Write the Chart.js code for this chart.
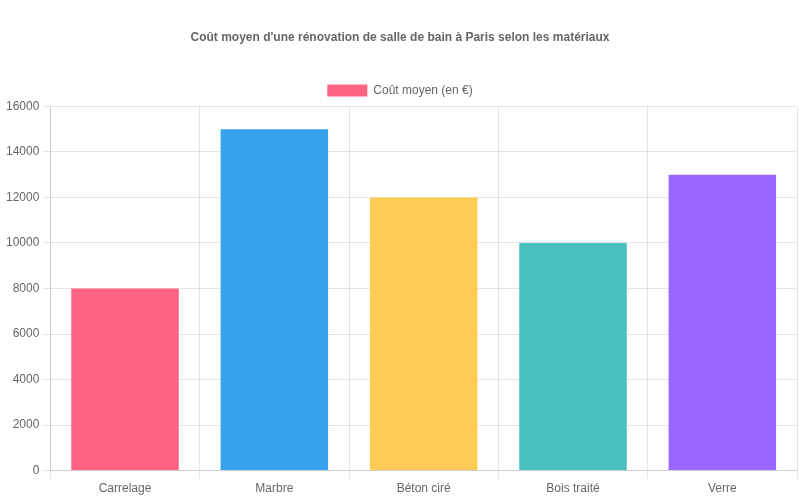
<!DOCTYPE html>
<html>
<head>
<meta charset="utf-8">
<script src="https://cdn.jsdelivr.net/npm/chart.js@4"></script>
<style>
  html, body { margin: 0; padding: 0; background: #fff; }
  #wrap { width: 800px; height: 500px; }
</style>
</head>
<body>
<div id="wrap"><canvas id="chart"></canvas></div>
<script>
const categories = ['Carrelage', 'Marbre', 'Béton ciré', 'Bois traité', 'Verre'];
const averageCost = [8000, 15000, 12000, 10000, 13000];
const barColors = [
    'rgb(255, 99, 132)',
    'rgb(54, 162, 235)',
    'rgb(255, 205, 86)',
    'rgb(75, 192, 192)',
    'rgb(153, 102, 255)'
];

Chart.defaults.font.family = "'Liberation Sans', Arial, sans-serif";
Chart.defaults.color = '#666';

const ctx = document.getElementById('chart');
new Chart(ctx, {
    type: 'bar',
    data: {
        labels: categories,
        datasets: [
            {
                label: 'Coût moyen (en €)',
                data: averageCost,
                backgroundColor: barColors,
                borderWidth: 0
            }
        ]
    },
    options: {
        responsive: true,
        maintainAspectRatio: false,
        animation: false,
        layout: {
            padding: { top: 20, right: 3, bottom: 1, left: 3 }
        },
        plugins: {
            title: {
                display: true,
                text: "Coût moyen d'une rénovation de salle de bain à Paris selon les matériaux",
                font: { size: 12, weight: 'bold' },
                padding: { top: 10, bottom: 30 }
            },
            legend: {
                labels: { boxWidth: 40 }
            }
        },
        scales: {
            y: {
                beginAtZero: true,
                max: 16000,
                ticks: {
                    stepSize: 2000,
                    callback: (value) => String(value) // no thousands separator
                }
            }
        }
    }
});
</script>
</body>
</html>
